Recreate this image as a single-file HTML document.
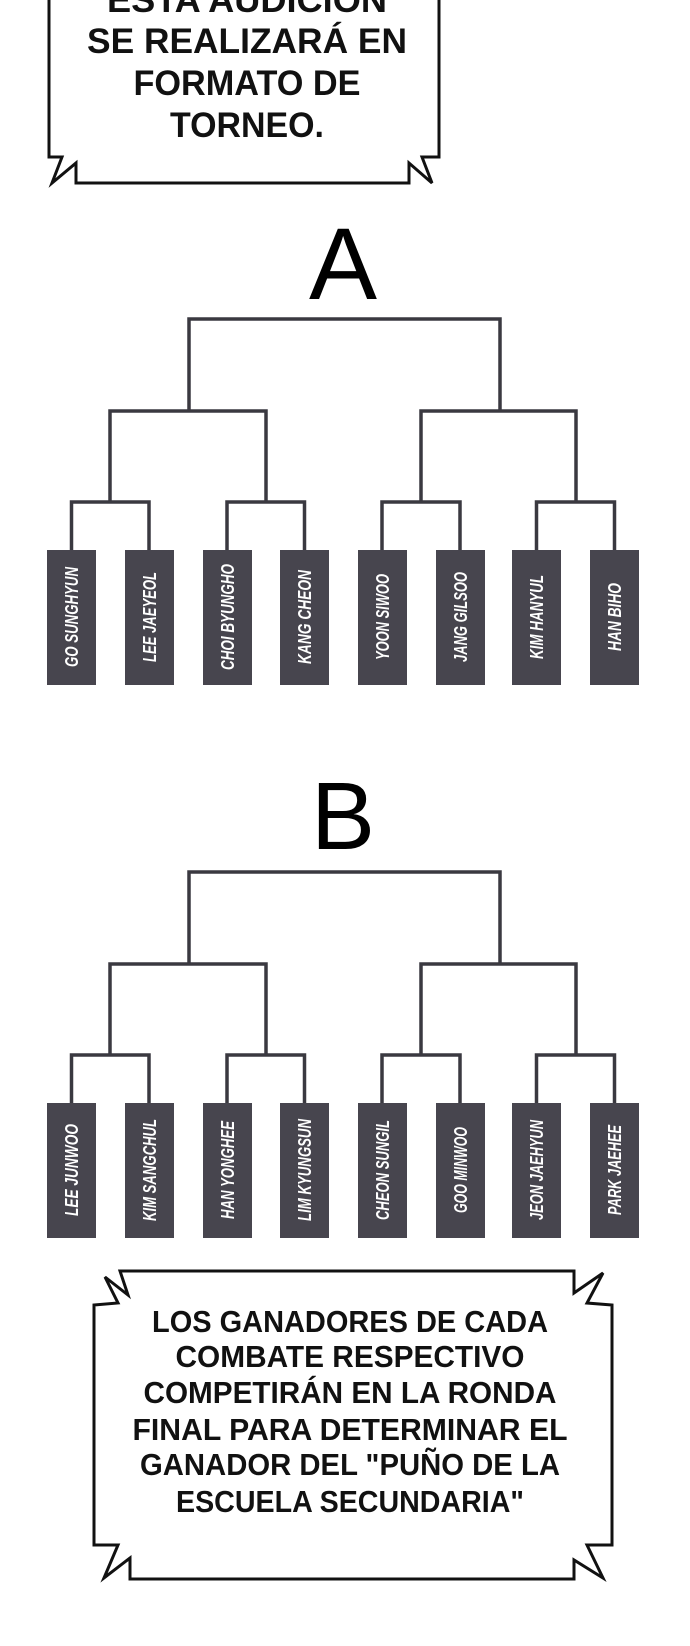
<!DOCTYPE html>
<html><head><meta charset="utf-8"><style>
html,body{margin:0;padding:0;background:#fff;width:690px;height:1646px;overflow:hidden}
svg{display:block}
.b{font-family:"Liberation Sans",sans-serif;font-weight:bold;fill:#111}
.n{font-family:"Liberation Sans Narrow","Liberation Sans",sans-serif;font-weight:bold;font-style:italic;fill:#fff;font-size:18px}
</style></head><body>
<svg width="690" height="1646" viewBox="0 0 690 1646" xmlns="http://www.w3.org/2000/svg">
<path d="M49,-5 L49,157 L62,157 L52,183 L76,163 L76,183 L409,183 L409,163 L432,183 L422,157 L439,157 L439,-5" fill="#fff" stroke="#111" stroke-width="3"/>
<g class="b" font-size="35" text-anchor="middle">
<text x="247" y="12" textLength="280" lengthAdjust="spacingAndGlyphs">ESTA AUDICIÓN</text>
<text x="247" y="53" textLength="320" lengthAdjust="spacingAndGlyphs">SE REALIZARÁ EN</text>
<text x="247" y="95" textLength="227" lengthAdjust="spacingAndGlyphs">FORMATO DE</text>
<text x="247" y="137" textLength="154" lengthAdjust="spacingAndGlyphs">TORNEO.</text>
</g>
<text x="343" y="299" font-family="'Liberation Sans',sans-serif" font-size="102" text-anchor="middle" fill="#000">A</text>
<g id="br" fill="none" stroke="#3a3940" stroke-width="3.5">
<path d="M189,411 V319 H500 V411"/>
<path d="M110,502 V411 H266 V502"/>
<path d="M421,502 V411 H576 V502"/>
<path d="M71.5,550 V502 H149 V550"/>
<path d="M227,550 V502 H304.5 V550"/>
<path d="M382,550 V502 H460 V550"/>
<path d="M536.5,550 V502 H614.5 V550"/>
</g>
<g fill="#47454e">
<rect x="47" y="550" width="49" height="135"/><rect x="125" y="550" width="49" height="135"/>
<rect x="203" y="550" width="49" height="135"/><rect x="280" y="550" width="49" height="135"/>
<rect x="358" y="550" width="49" height="135"/><rect x="436" y="550" width="49" height="135"/>
<rect x="512" y="550" width="49" height="135"/><rect x="590" y="550" width="49" height="135"/>
</g>
<g class="n" text-anchor="middle">
<text transform="translate(78,617) rotate(-90)" textLength="100" lengthAdjust="spacingAndGlyphs">GO SUNGHYUN</text>
<text transform="translate(156,617) rotate(-90)" textLength="90" lengthAdjust="spacingAndGlyphs">LEE JAEYEOL</text>
<text transform="translate(234,617) rotate(-90)" textLength="106" lengthAdjust="spacingAndGlyphs">CHOI BYUNGHO</text>
<text transform="translate(311,617) rotate(-90)" textLength="94" lengthAdjust="spacingAndGlyphs">KANG CHEON</text>
<text transform="translate(389,617) rotate(-90)" textLength="86" lengthAdjust="spacingAndGlyphs">YOON SIWOO</text>
<text transform="translate(467,617) rotate(-90)" textLength="90" lengthAdjust="spacingAndGlyphs">JANG GILSOO</text>
<text transform="translate(543,617) rotate(-90)" textLength="84" lengthAdjust="spacingAndGlyphs">KIM HANYUL</text>
<text transform="translate(621,617) rotate(-90)" textLength="68" lengthAdjust="spacingAndGlyphs">HAN BIHO</text>
</g>
<text x="343" y="849" font-family="'Liberation Sans',sans-serif" font-size="96" text-anchor="middle" fill="#000">B</text>
<use href="#br" transform="translate(0,553)"/>
<g fill="#47454e">
<rect x="47" y="1103" width="49" height="135"/><rect x="125" y="1103" width="49" height="135"/>
<rect x="203" y="1103" width="49" height="135"/><rect x="280" y="1103" width="49" height="135"/>
<rect x="358" y="1103" width="49" height="135"/><rect x="436" y="1103" width="49" height="135"/>
<rect x="512" y="1103" width="49" height="135"/><rect x="590" y="1103" width="49" height="135"/>
</g>
<g class="n" text-anchor="middle">
<text transform="translate(78,1170) rotate(-90)" textLength="92" lengthAdjust="spacingAndGlyphs">LEE JUNWOO</text>
<text transform="translate(156,1170) rotate(-90)" textLength="102" lengthAdjust="spacingAndGlyphs">KIM SANGCHUL</text>
<text transform="translate(234,1170) rotate(-90)" textLength="98" lengthAdjust="spacingAndGlyphs">HAN YONGHEE</text>
<text transform="translate(311,1170) rotate(-90)" textLength="102" lengthAdjust="spacingAndGlyphs">LIM KYUNGSUN</text>
<text transform="translate(389,1170) rotate(-90)" textLength="100" lengthAdjust="spacingAndGlyphs">CHEON SUNGIL</text>
<text transform="translate(467,1170) rotate(-90)" textLength="86" lengthAdjust="spacingAndGlyphs">GOO MINWOO</text>
<text transform="translate(543,1170) rotate(-90)" textLength="100" lengthAdjust="spacingAndGlyphs">JEON JAEHYUN</text>
<text transform="translate(621,1170) rotate(-90)" textLength="90" lengthAdjust="spacingAndGlyphs">PARK JAEHEE</text>
</g>
<path d="M120,1271 L574,1271 L574,1293 L603,1273 L587,1303 L612,1305 L612,1545 L587,1545 L603,1578 L574,1560 L574,1579 L130,1579 L130,1558 L104,1578 L118,1545 L94,1545 L94,1305 L118,1303 L105,1277 L128,1295 Z" fill="#fff" stroke="#111" stroke-width="3"/>
<g class="b" font-size="31" text-anchor="middle">
<text x="350" y="1332" textLength="396" lengthAdjust="spacingAndGlyphs">LOS GANADORES DE CADA</text>
<text x="350" y="1367" textLength="349" lengthAdjust="spacingAndGlyphs">COMBATE RESPECTIVO</text>
<text x="350" y="1403" textLength="413" lengthAdjust="spacingAndGlyphs">COMPETIRÁN EN LA RONDA</text>
<text x="350" y="1440" textLength="435" lengthAdjust="spacingAndGlyphs">FINAL PARA DETERMINAR EL</text>
<text x="350" y="1475" textLength="420" lengthAdjust="spacingAndGlyphs">GANADOR DEL "PUÑO DE LA</text>
<text x="350" y="1512" textLength="348" lengthAdjust="spacingAndGlyphs">ESCUELA SECUNDARIA"</text>
</g>
</svg>
</body></html>
